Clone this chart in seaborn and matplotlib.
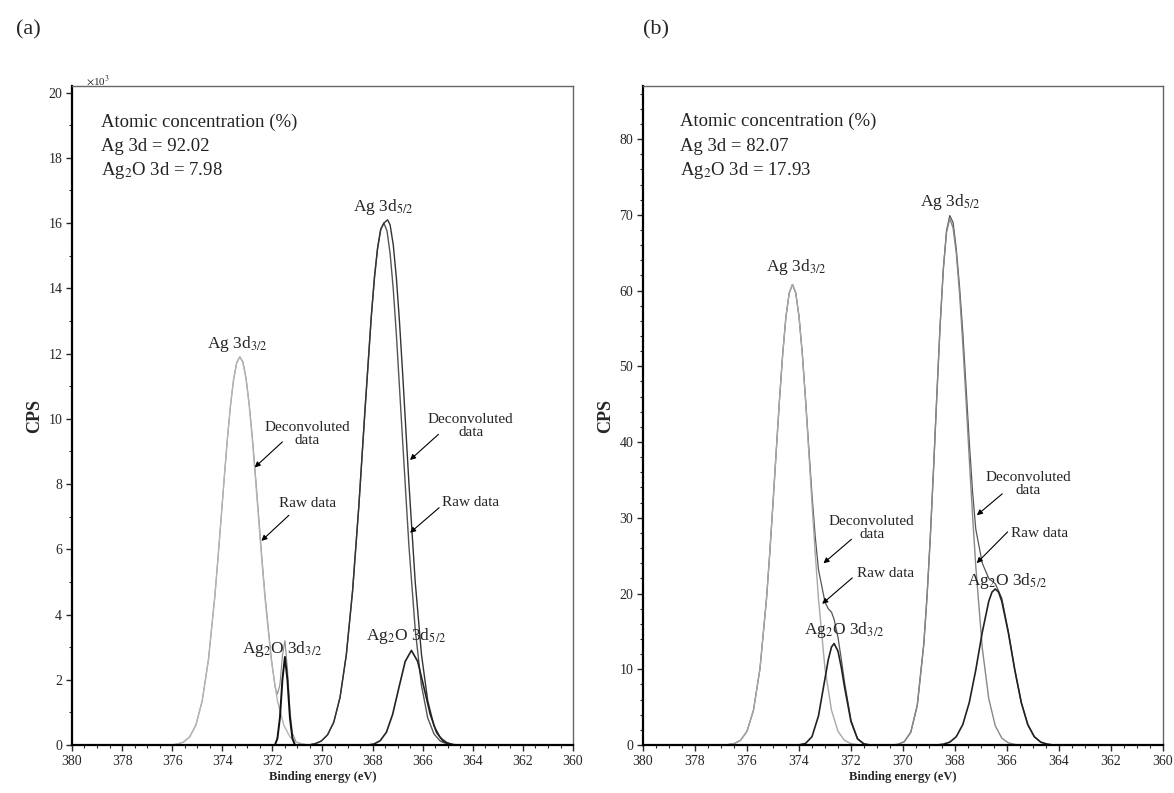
import matplotlib
matplotlib.use("Agg")
import matplotlib.pyplot as plt
from matplotlib.ticker import MultipleLocator
import seaborn as sns
import pandas as pd

# ---- panel (a): counts in units of 10^3 CPS ----
a_ag32_x = [376.05, 375.8, 375.55, 375.3, 375.05, 374.8, 374.55, 374.3, 374.175, 374.05, 373.925, 373.8,
            373.675, 373.55, 373.425, 373.3, 373.175, 373.05, 372.925, 372.8, 372.675, 372.55, 372.425,
            372.3, 372.05, 371.8, 371.55, 371.3, 371.05, 370.8, 370.55]
a_ag32_y = [0.0, 0.03, 0.09, 0.25, 0.62, 1.36, 2.63, 4.54, 5.69, 6.92, 8.16, 9.35,
            10.39, 11.2, 11.72, 11.9, 11.72, 11.2, 10.39, 9.35, 8.16, 6.92, 5.69,
            4.54, 2.63, 1.36, 0.62, 0.25, 0.09, 0.03, 0.0]

a_ag2o32_x = [371.9, 371.8, 371.7, 371.6, 371.5, 371.4, 371.3, 371.2, 371.1]
a_ag2o32_y = [0.0, 0.2, 0.83, 2.0, 2.7, 2.0, 0.83, 0.2, 0.0]

a_raw_low_x = [376.05, 375.8, 375.55, 375.3, 375.05, 374.8, 374.55, 374.3, 374.175, 374.05, 373.925, 373.8,
               373.675, 373.55, 373.425, 373.3, 373.175, 373.05, 372.925, 372.8, 372.675, 372.55, 372.425,
               372.3, 372.05, 371.9, 371.8, 371.7, 371.6, 371.5, 371.4, 371.3, 371.2, 371.05, 370.8, 370.55]
a_raw_low_y = [0.0, 0.03, 0.09, 0.25, 0.62, 1.36, 2.63, 4.54, 5.69, 6.92, 8.16, 9.35,
               10.39, 11.2, 11.72, 11.9, 11.75, 11.25, 10.46, 9.45, 8.27, 7.05, 5.81,
               4.65, 2.72, 1.8, 1.56, 1.84, 2.73, 3.2, 2.35, 1.08, 0.37, 0.09, 0.03, 0.0]

a_ag52_x = [370.55, 370.3, 370.05, 369.8, 369.55, 369.3, 369.05, 368.8, 368.55, 368.3, 368.05, 367.925,
            367.8, 367.675, 367.55, 367.425, 367.3, 367.175, 367.05, 366.8, 366.55, 366.3, 366.05, 365.8,
            365.55, 365.3, 365.05, 364.8]
a_ag52_y = [0.0, 0.04, 0.12, 0.31, 0.70, 1.46, 2.76, 4.72, 7.32, 10.31, 13.16, 14.34,
            15.24, 15.81, 16.0, 15.76, 15.06, 13.97, 12.57, 9.30, 6.10, 3.55, 1.83, 0.83,
            0.34, 0.12, 0.04, 0.0]

a_raw_high_x = [370.55, 370.3, 370.05, 369.8, 369.55, 369.3, 369.05, 368.8, 368.55, 368.3, 368.05, 367.925,
                367.8, 367.675, 367.55, 367.4, 367.3, 367.175, 367.05, 366.925, 366.8, 366.55, 366.3, 366.05,
                365.8, 365.55, 365.3, 365.05, 364.8, 364.55]
a_raw_high_y = [0.0, 0.04, 0.12, 0.31, 0.70, 1.46, 2.76, 4.72, 7.32, 10.31, 13.16, 14.34,
                15.24, 15.81, 16.0, 16.1, 15.94, 15.33, 14.31, 12.95, 11.38, 8.02, 5.01, 2.78,
                1.36, 0.59, 0.23, 0.08, 0.02, 0.0]

a_ag2o52_x = [368.2, 367.95, 367.7, 367.45, 367.2, 366.95, 366.7, 366.45, 366.2, 365.95, 365.7, 365.45,
              365.2, 364.95, 364.7]
a_ag2o52_y = [0.0, 0.03, 0.13, 0.39, 0.94, 1.76, 2.56, 2.9, 2.56, 1.76, 0.94, 0.39,
              0.13, 0.03, 0.0]

# ---- panel (b): counts in CPS ----
b_ag32_x = [377.0, 376.75, 376.5, 376.25, 376.0, 375.75, 375.5, 375.25, 375.125, 375.0, 374.875, 374.75,
            374.625, 374.5, 374.375, 374.25, 374.125, 374.0, 373.875, 373.75, 373.625, 373.5, 373.375,
            373.25, 373.0, 372.75, 372.5, 372.25, 372.0, 371.75, 371.5]
b_ag32_y = [0.0, 0.05, 0.18, 0.62, 1.81, 4.6, 10.1, 19.3, 25.3, 31.9, 38.8, 45.6,
            51.7, 56.6, 59.7, 60.8, 59.7, 56.6, 51.7, 45.6, 38.8, 31.9, 25.3,
            19.3, 10.1, 4.6, 1.81, 0.62, 0.18, 0.05, 0.0]

b_ag2o32_x = [374.25, 374.0, 373.75, 373.5, 373.25, 373.0, 372.875, 372.75, 372.65, 372.5, 372.375, 372.25,
              372.0, 371.75, 371.5, 371.25]
b_ag2o32_y = [0.0, 0.02, 0.2, 1.10, 3.85, 8.77, 11.24, 12.94, 13.4, 12.40, 10.3, 7.70,
              3.10, 0.81, 0.14, 0.0]

b_raw_low_x = [377.0, 376.75, 376.5, 376.25, 376.0, 375.75, 375.5, 375.25, 375.125, 375.0, 374.875, 374.75,
               374.625, 374.5, 374.375, 374.25, 374.125, 374.0, 373.875, 373.75, 373.625, 373.5, 373.375,
               373.25, 373.0, 372.875, 372.75, 372.65, 372.5, 372.375, 372.25, 372.0, 371.75, 371.5, 371.25]
b_raw_low_y = [0.0, 0.05, 0.18, 0.62, 1.81, 4.6, 10.1, 19.3, 25.3, 31.9, 38.8, 45.6,
               51.7, 56.6, 59.7, 60.8, 59.7, 56.6, 51.8, 45.8, 39.3, 33.0, 27.5,
               23.15, 18.87, 18.0, 17.54, 16.6, 14.21, 11.4, 8.32, 3.28, 0.86, 0.14, 0.0]

b_ag52_x = [370.7, 370.45, 370.2, 369.95, 369.7, 369.45, 369.2, 369.075, 368.95, 368.825, 368.7, 368.575,
            368.45, 368.325, 368.2, 368.075, 367.95, 367.825, 367.7, 367.575, 367.45, 367.325, 367.2,
            366.95, 366.7, 366.45, 366.2, 365.95, 365.7, 365.45]
b_ag52_y = [0.0, 0.0, 0.09, 0.44, 1.69, 5.25, 13.3, 19.6, 27.4, 36.4, 46.0, 55.1,
            62.7, 67.7, 69.5, 68.3, 64.95, 59.7, 53.0, 45.6, 37.8, 30.4, 23.6,
            12.8, 6.1, 2.54, 0.92, 0.29, 0.08, 0.0]

b_ag2o52_x = [368.7, 368.45, 368.2, 367.95, 367.7, 367.45, 367.2, 366.95, 366.7, 366.575, 366.45, 366.325,
              366.2, 365.95, 365.7, 365.45, 365.2, 364.95, 364.7, 364.45, 364.2]
b_ag2o52_y = [0.0, 0.11, 0.38, 1.10, 2.70, 5.61, 9.91, 14.88, 18.99, 20.2, 20.6, 20.2,
              18.99, 14.88, 9.91, 5.61, 2.70, 1.10, 0.38, 0.11, 0.0]

b_raw_high_x = [370.7, 370.45, 370.2, 369.95, 369.7, 369.45, 369.2, 369.075, 368.95, 368.825, 368.7, 368.575,
                368.45, 368.325, 368.2, 368.075, 367.95, 367.825, 367.7, 367.575, 367.45, 367.325, 367.2,
                366.95, 366.7, 366.45, 366.2, 365.95, 365.7, 365.45, 365.2, 364.95, 364.7, 364.45, 364.2]
b_raw_high_y = [0.0, 0.0, 0.09, 0.44, 1.69, 5.25, 13.3, 19.6, 27.4, 36.4, 46.0, 55.2,
                62.8, 67.9, 69.9, 69.0, 65.5, 60.5, 54.5, 47.3, 40.0, 33.5, 28.5,
                24.0, 22.0, 21.3, 19.4, 15.0, 9.95, 5.61, 2.70, 1.10, 0.38, 0.11, 0.0]

x_ticks = [380, 378, 376, 374, 372, 370, 368, 366, 364, 362, 360]
a_y_ticks = [0, 2, 4, 6, 8, 10, 12, 14, 16, 18, 20]
b_y_ticks = [0, 10, 20, 30, 40, 50, 60, 70, 80]

a_conc = ["Atomic concentration (%)", "Ag 3d = 92.02", "Ag$_2$O 3d = 7.98"]
b_conc = ["Atomic concentration (%)", "Ag 3d = 82.07", "Ag$_2$O 3d = 17.93"]

sns.set_style("ticks")
plt.rcParams['font.family'] = ['Liberation Serif', 'DejaVu Serif']
plt.rcParams['mathtext.fontset'] = 'stix'


def draw_curve(ax, xs, ys, color, lw):
    df = pd.DataFrame({'energy': xs, 'cps': ys})
    sns.lineplot(data=df, x='energy', y='cps', ax=ax, color=color, lw=lw,
                 estimator=None, sort=False, legend=False)


def style_axes(ax, ymax, yticks, yminor):
    ax.set_xlim(380, 360)
    ax.set_ylim(0, ymax)
    ax.set_xticks(x_ticks)
    ax.set_yticks(yticks)
    ax.xaxis.set_minor_locator(MultipleLocator(0.5))
    ax.yaxis.set_minor_locator(MultipleLocator(yminor))
    ax.tick_params(which='major', direction='out', length=4, width=1, labelsize=10, pad=3)
    ax.tick_params(which='minor', direction='out', length=2, width=0.8)
    for side in ['top', 'right']:
        ax.spines[side].set_color('#666666')
        ax.spines[side].set_linewidth(1.0)
    for side in ['bottom', 'left']:
        ax.spines[side].set_color('black')
        ax.spines[side].set_linewidth(1.6)
    ax.set_xlabel('Binding energy (eV)', fontsize=9, fontweight='bold', labelpad=2)
    ax.set_ylabel('CPS', fontsize=13, fontweight='bold', labelpad=4)


def arrow(ax, tip, start):
    ax.annotate('', xy=tip, xytext=start,
                arrowprops=dict(arrowstyle='-|>', color='black', lw=0.8, mutation_scale=8))


fig = plt.figure(figsize=(11.74, 7.93), dpi=100)
ax_a = fig.add_axes([0.0613, 0.0605, 0.4268, 0.831])
ax_b = fig.add_axes([0.5477, 0.0605, 0.4429, 0.831])

# panel (a)
draw_curve(ax_a, a_raw_low_x, a_raw_low_y, '#8c8c8c', 0.8)
draw_curve(ax_a, a_ag32_x, a_ag32_y, '#b4b4b4', 1.0)
draw_curve(ax_a, a_ag2o32_x, a_ag2o32_y, '#111111', 1.4)
draw_curve(ax_a, a_ag52_x, a_ag52_y, '#555555', 1.0)
draw_curve(ax_a, a_raw_high_x, a_raw_high_y, '#333333', 1.0)
draw_curve(ax_a, a_ag2o52_x, a_ag2o52_y, '#222222', 1.2)
style_axes(ax_a, 20.2, a_y_ticks, 1)

for i, line in enumerate(a_conc):
    ax_a.text(378.83, 19.1 - i * 0.75, line, fontsize=13.5, va='center', ha='left', color='#222222')
ax_a.text(367.57, 16.5, 'Ag 3d$_{5/2}$', fontsize=12.5, ha='center', va='center')
ax_a.text(373.39, 12.3, 'Ag 3d$_{3/2}$', fontsize=12.5, ha='center', va='center')
ax_a.text(371.6, 2.95, 'Ag$_2$O 3d$_{3/2}$', fontsize=12.5, ha='center', va='center')
ax_a.text(366.67, 3.33, 'Ag$_2$O 3d$_{5/2}$', fontsize=12.5, ha='center', va='center')
ax_a.text(370.6, 9.53, 'Deconvoluted\ndata', fontsize=11, ha='center', va='center', linespacing=1.0)
arrow(ax_a, (372.79, 8.45), (371.52, 9.35))
ax_a.text(370.59, 7.41, 'Raw data', fontsize=11, ha='center', va='center')
arrow(ax_a, (372.52, 6.2), (371.26, 7.1))
ax_a.text(364.08, 9.78, 'Deconvoluted\ndata', fontsize=11, ha='center', va='center', linespacing=1.0)
arrow(ax_a, (366.59, 8.68), (365.29, 9.58))
ax_a.text(364.08, 7.44, 'Raw data', fontsize=11, ha='center', va='center')
arrow(ax_a, (366.59, 6.45), (365.26, 7.33))

# panel (b)
draw_curve(ax_b, b_raw_low_x, b_raw_low_y, '#555555', 0.9)
draw_curve(ax_b, b_ag32_x, b_ag32_y, '#a8a8a8', 1.0)
draw_curve(ax_b, b_ag2o32_x, b_ag2o32_y, '#222222', 1.2)
draw_curve(ax_b, b_raw_high_x, b_raw_high_y, '#555555', 0.9)
draw_curve(ax_b, b_ag52_x, b_ag52_y, '#888888', 1.0)
draw_curve(ax_b, b_ag2o52_x, b_ag2o52_y, '#222222', 1.2)
style_axes(ax_b, 87, b_y_ticks, 2)

for i, line in enumerate(b_conc):
    ax_b.text(378.58, 82.3 - i * 3.25, line, fontsize=13.5, va='center', ha='left', color='#222222')
ax_b.text(368.18, 71.7, 'Ag 3d$_{5/2}$', fontsize=12.5, ha='center', va='center')
ax_b.text(374.09, 63.1, 'Ag 3d$_{3/2}$', fontsize=12.5, ha='center', va='center')
ax_b.text(372.27, 15.2, 'Ag$_2$O 3d$_{3/2}$', fontsize=12.5, ha='center', va='center')
ax_b.text(366.0, 21.6, 'Ag$_2$O 3d$_{5/2}$', fontsize=12.5, ha='center', va='center')
ax_b.text(371.2, 28.7, 'Deconvoluted\ndata', fontsize=11, ha='center', va='center', linespacing=1.0)
arrow(ax_b, (373.14, 23.75), (371.9, 27.4))
ax_b.text(370.66, 22.6, 'Raw data', fontsize=11, ha='center', va='center')
arrow(ax_b, (373.19, 18.4), (371.87, 22.3))
ax_b.text(365.19, 34.5, 'Deconvoluted\ndata', fontsize=11, ha='center', va='center', linespacing=1.0)
arrow(ax_b, (367.24, 30.1), (366.1, 33.4))
ax_b.text(364.76, 27.9, 'Raw data', fontsize=11, ha='center', va='center')
arrow(ax_b, (367.24, 23.75), (365.9, 28.4))

fig.text(86 / 1174, 1 - 81 / 793, r'$\times$10$^3$', fontsize=8, ha='left', va='center')
fig.text(28 / 1174, 1 - 30 / 793, '(a)', fontsize=16, ha='center', va='center')
fig.text(656 / 1174, 1 - 30 / 793, '(b)', fontsize=16, ha='center', va='center')

fig.savefig('out.png', dpi=100, facecolor='white')
